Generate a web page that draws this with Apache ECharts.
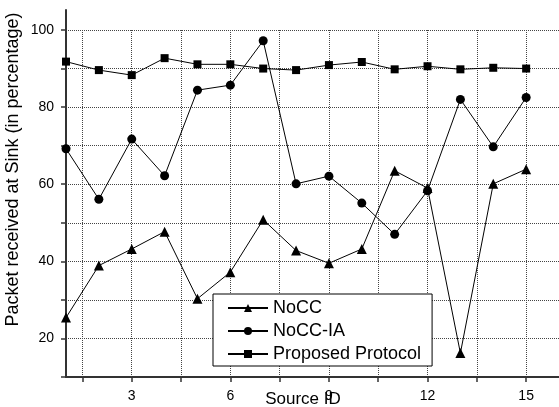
<!DOCTYPE html>
<html>
<head>
<meta charset="utf-8">
<script src="https://cdn.jsdelivr.net/npm/echarts@6/dist/echarts.min.js"></script>
<style>
  html, body { margin: 0; padding: 0; background: #fff; }
  #chart { width: 559px; height: 407px; }
</style>
</head>
<body>
<div id="chart"></div>
<script>
// source ids on the x axis
var sourceIds = [1, 2, 3, 4, 5, 6, 7, 8, 9, 10, 11, 12, 13, 14, 15];

// packet received at sink (%)
var noCC = [25.4, 38.9, 43.2, 47.7, 30.3, 37.2, 50.8, 42.8, 39.5, 43.2, 63.5, 59.0, 16.2, 60.1, 63.9];
var noCCIA = [69.2, 56.1, 71.7, 62.2, 84.4, 85.7, 97.2, 60.1, 62.1, 55.1, 47.0, 58.3, 82.0, 69.7, 82.5];
var proposed = [91.8, 89.6, 88.3, 92.7, 91.1, 91.1, 90.0, 89.6, 90.9, 91.7, 89.8, 90.6, 89.8, 90.2, 90.0];

// tick positions
var xTickValues = [1.5, 3, 4.5, 6, 7.5, 9, 10.5, 12, 13.5, 15];
var xLabelValues = [3, 6, 9, 12, 15];

var font = '"Liberation Sans", Arial, sans-serif';

function pairs(ys) {
  return sourceIds.map(function (x, i) { return [x, ys[i]]; });
}

var axisLine = {show: true, onZero: false, lineStyle: {color: '#333', width: 2}};
var dotted = {show: true, lineStyle: {color: '#444', width: 1, type: 'dotted'}};

var myChart = echarts.init(document.getElementById('chart'));

var option = {
  animation: false,
  backgroundColor: '#fff',
  textStyle: {fontFamily: font},
  grid: [
    {left: 66, top: 30, width: 495, height: 347},
    // only used to let the y axis line run a bit above 100
    {left: 66, top: 10, width: 495, height: 367}
  ],
  xAxis: [{
    type: 'value', gridIndex: 0, min: 1, max: 16,
    axisLine: axisLine,
    axisTick: {show: true, length: 5, customValues: xTickValues, lineStyle: {color: '#333', width: 1.5}},
    axisLabel: {customValues: xLabelValues, margin: 12, fontSize: 14, color: '#000', fontFamily: font},
    splitLine: dotted
  }, {
    type: 'value', gridIndex: 1, min: 0, max: 1, show: false
  }],
  yAxis: [{
    type: 'value', gridIndex: 0, min: 10, max: 100, interval: 10,
    axisLine: axisLine,
    axisTick: {show: true, length: 5, lineStyle: {color: '#333', width: 1.5}},
    axisLabel: {
      margin: 12, fontSize: 14, color: '#000', fontFamily: font,
      formatter: function (v) { return (v % 20 === 0 && v > 10) ? String(v) : ''; }
    },
    splitLine: dotted
  }, {
    type: 'value', gridIndex: 1, min: 0, max: 1,
    axisLine: axisLine,
    axisTick: {show: false},
    axisLabel: {show: false},
    splitLine: {show: false}
  }],
  legend: {
    left: 213, top: 294,
    orient: 'vertical',
    backgroundColor: '#fff',
    borderColor: '#000',
    borderWidth: 1,
    padding: [5, 11, 3, 14],
    itemWidth: 40,
    itemHeight: 10,
    itemGap: 5,
    textStyle: {fontSize: 18, color: '#000', fontFamily: font},
    data: ['NoCC', 'NoCC-IA', 'Proposed Protocol']
  },
  graphic: [{
    type: 'text', x: 13.5, y: 169.5, rotation: Math.PI / 2,
    style: {text: 'Packet received at Sink (in percentage)', fontSize: 18, fontFamily: font,
      fill: '#000', align: 'center', verticalAlign: 'middle'}
  }, {
    type: 'text', x: 303, y: 399,
    style: {text: 'Source ID', fontSize: 17, fontFamily: font,
      fill: '#000', align: 'center', verticalAlign: 'middle'}
  }],
  series: [{
    name: 'NoCC', type: 'line', symbol: 'triangle', symbolSize: 10,
    data: pairs(noCC),
    lineStyle: {color: '#000', width: 1}, itemStyle: {color: '#000'}
  }, {
    name: 'NoCC-IA', type: 'line', symbol: 'circle', symbolSize: 9,
    data: pairs(noCCIA),
    lineStyle: {color: '#000', width: 1}, itemStyle: {color: '#000'}
  }, {
    name: 'Proposed Protocol', type: 'line', symbol: 'rect', symbolSize: 8,
    data: pairs(proposed),
    lineStyle: {color: '#000', width: 1}, itemStyle: {color: '#000'}
  }]
};

myChart.setOption(option);
</script>
</body>
</html>
